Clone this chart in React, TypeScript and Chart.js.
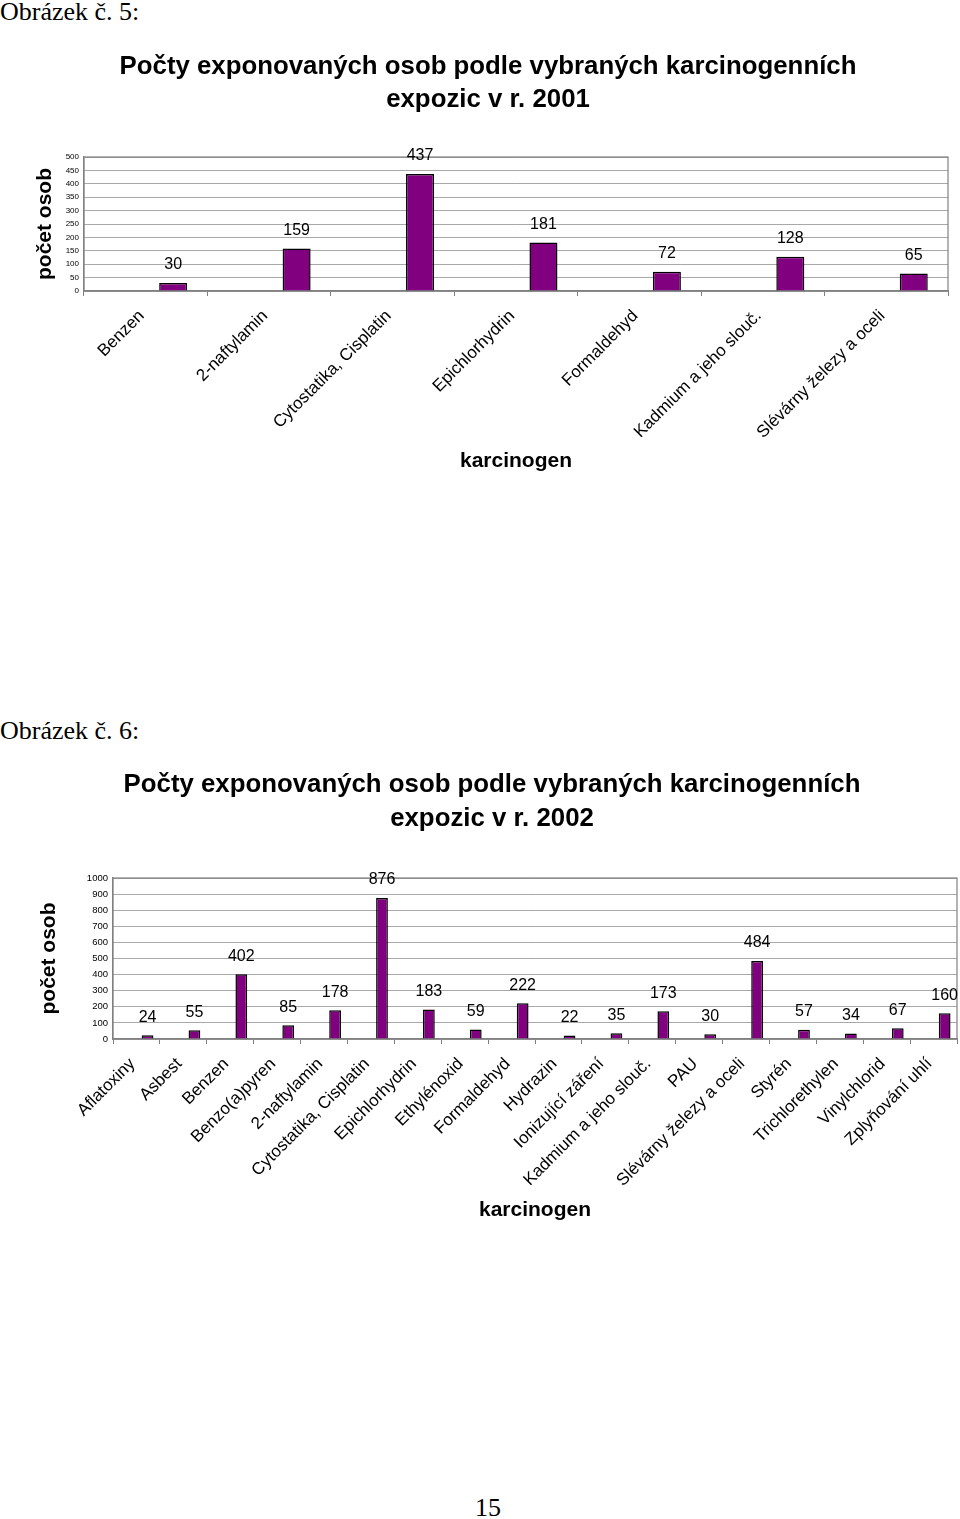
import React, { useEffect, useRef } from 'react';
import { Chart, registerables } from 'chart.js';

Chart.register(...registerables);

// ---- Data ----
const categories2001 = [
  'Benzen',
  '2-naftylamin',
  'Cytostatika, Cisplatin',
  'Epichlorhydrin',
  'Formaldehyd',
  'Kadmium a jeho slouč.',
  'Slévárny železy a oceli',
];
const values2001 = [30, 159, 437, 181, 72, 128, 65];

const categories2002 = [
  'Aflatoxiny',
  'Asbest',
  'Benzen',
  'Benzo(a)pyren',
  '2-naftylamin',
  'Cytostatika, Cisplatin',
  'Epichlorhydrin',
  'Ethylénoxid',
  'Formaldehyd',
  'Hydrazin',
  'Ionizující záření',
  'Kadmium a jeho slouč.',
  'PAU',
  'Slévárny železy a oceli',
  'Styrén',
  'Trichlorethylen',
  'Vinylchlorid',
  'Zplyňování uhlí',
];
const values2002 = [24, 55, 402, 85, 178, 876, 183, 59, 222, 22, 35, 173, 30, 484, 57, 34, 67, 160];

const title2001 = ['Počty exponovaných osob podle vybraných karcinogenních', 'expozic v r. 2001'];
const title2002 = ['Počty exponovaných osob podle vybraných karcinogenních', 'expozic v r. 2002'];
const yTitle = 'počet osob';
const xTitle = 'karcinogen';
const yMax2001 = 500;
const yStep2001 = 50;
const yMax2002 = 1000;
const yStep2002 = 100;

const SANS = "'Liberation Sans', Arial, sans-serif";
const SERIF = "'Liberation Serif', 'Times New Roman', serif";

type Cfg = {
  labels: string[];
  values: number[];
  title: string[];
  yMax: number;
  yStep: number;
  yTickSize: number;
  titleLineHeight: number;
  titlePadTop: number;
  titlePadBottom: number;
  yAxisWidth: number;
  yTitlePad: number;
  xAxisHeight: number;
  xTitlePadBottom: number;
  padRight: number;
  catPct: number;
  barPct: number;
};

const framePlugin = {
  id: 'frame',
  beforeDatasetsDraw(chart: any) {
    const { ctx, chartArea } = chart;
    const { left, top, right, bottom } = chartArea;
    ctx.save();
    ctx.strokeStyle = '#808080';
    ctx.lineWidth = 1.2;
    ctx.strokeRect(left, top, right - left, bottom - top);
    ctx.restore();
  },
};

const valueLabelPlugin = {
  id: 'valueLabels',
  afterDatasetsDraw(chart: any) {
    const { ctx } = chart;
    const ds = chart.data.datasets[1];
    const meta = chart.getDatasetMeta(1);
    ctx.save();
    ctx.fillStyle = '#000';
    ctx.font = `16px ${SANS}`;
    ctx.textAlign = 'center';
    ctx.textBaseline = 'middle';
    meta.data.forEach((bar: any, i: number) => {
      ctx.fillText(String(ds.data[i]), bar.x, bar.y - 18);
    });
    ctx.restore();
  },
};

function buildConfig(c: Cfg): any {
  return {
    type: 'bar',
    data: {
      labels: c.labels,
      datasets: [
        {
          label: '',
          data: c.labels.map(() => null),
          backgroundColor: '#800080',
        },
        {
          label: yTitle,
          data: c.values,
          backgroundColor: '#800080',
          borderColor: '#000000',
          borderWidth: 1.5,
          categoryPercentage: c.catPct,
          barPercentage: c.barPct,
        },
      ],
    },
    options: {
      responsive: false,
      animation: false,
      devicePixelRatio: 1,
      layout: { padding: { left: 0, right: c.padRight, top: 0, bottom: 0 } },
      datasets: { bar: { categoryPercentage: c.catPct, barPercentage: c.barPct } },
      plugins: {
        legend: { display: false },
        tooltip: { enabled: false },
        title: {
          display: true,
          text: c.title,
          color: '#000',
          font: { family: SANS, size: 25.8, weight: 'bold', lineHeight: c.titleLineHeight },
          padding: { top: c.titlePadTop, bottom: c.titlePadBottom },
        },
      },
      scales: {
        x: {
          offset: true,
          grid: {
            display: true,
            drawOnChartArea: false,
            drawTicks: true,
            tickLength: 5,
            color: '#808080',
            offset: true,
          },
          border: { display: true, color: '#808080', width: 1.2 },
          ticks: {
            autoSkip: false,
            minRotation: 45,
            maxRotation: 45,
            color: '#000',
            padding: 10,
            labelOffset: -4,
            font: { family: SANS, size: 17 },
          },
          title: {
            display: true,
            text: xTitle,
            color: '#000',
            font: { family: SANS, size: 21, weight: 'bold', lineHeight: 1.2 },
            padding: { top: 0, bottom: c.xTitlePadBottom },
          },
          afterFit(scale: any) {
            scale.height = c.xAxisHeight;
          },
        },
        y: {
          min: 0,
          max: c.yMax,
          grid: {
            color: '#a8a8a8',
            lineWidth: 1,
            drawTicks: false,
          },
          border: { display: true, color: '#808080', width: 1.2 },
          ticks: {
            stepSize: c.yStep,
            color: '#000',
            padding: 5,
            font: { family: SANS, size: c.yTickSize },
            callback: (v: any) => String(v),
          },
          title: {
            display: true,
            text: yTitle,
            color: '#000',
            font: { family: SANS, size: 21, weight: 'bold', lineHeight: 1.2 },
            padding: { top: c.yTitlePad, bottom: 0 },
          },
          afterFit(scale: any) {
            scale.width = c.yAxisWidth;
          },
        },
      },
    },
    plugins: [framePlugin, valueLabelPlugin],
  };
}

function BarChart({ cfg, left, top, width, height }: { cfg: Cfg; left: number; top: number; width: number; height: number }) {
  const ref = useRef<HTMLCanvasElement | null>(null);
  useEffect(() => {
    if (!ref.current) return;
    const chart = new Chart(ref.current, buildConfig(cfg));
    return () => chart.destroy();
  }, []);
  return (
    <canvas
      ref={ref}
      width={width}
      height={height}
      style={{ position: 'absolute', left, top, width, height }}
    />
  );
}

const cfg2001: Cfg = {
  labels: categories2001,
  values: values2001,
  title: title2001,
  yMax: yMax2001,
  yStep: yStep2001,
  yTickSize: 8,
  titleLineHeight: 33 / 25.8,
  titlePadTop: 10.5,
  titlePadBottom: 40.5,
  yAxisWidth: 56,
  yTitlePad: 5,
  xAxisHeight: 199,
  xTitlePadBottom: 16,
  padRight: 12,
  catPct: 0.89,
  barPct: 0.51,
};

const cfg2002: Cfg = {
  labels: categories2002,
  values: values2002,
  title: title2002,
  yMax: yMax2002,
  yStep: yStep2002,
  yTickSize: 9.5,
  titleLineHeight: 34 / 25.8,
  titlePadTop: 18,
  titlePadBottom: 42,
  yAxisWidth: 86,
  yTitlePad: 9.5,
  xAxisHeight: 201,
  xTitlePadBottom: 17,
  padRight: 3,
  catPct: 0.947,
  barPct: 0.53,
};

const textStyle: React.CSSProperties = {
  position: 'absolute',
  fontFamily: SERIF,
  fontSize: 26,
  lineHeight: '26px',
  color: '#000',
  whiteSpace: 'nowrap',
};

export default function App() {
  return (
    <div style={{ position: 'absolute', left: 0, top: 0, width: 960, height: 1519, background: '#fff', overflow: 'hidden' }}>
      <div style={{ ...textStyle, left: 0, top: -1 }}>Obrázek č. 5:</div>
      <BarChart cfg={cfg2001} left={28} top={40} width={932} height={450} />
      <div style={{ ...textStyle, left: 0, top: 718 }}>Obrázek č. 6:</div>
      <BarChart cfg={cfg2002} left={27} top={750} width={933} height={490} />
      <div style={{ ...textStyle, left: 438, width: 100, textAlign: 'center', top: 1495 }}>15</div>
    </div>
  );
}
